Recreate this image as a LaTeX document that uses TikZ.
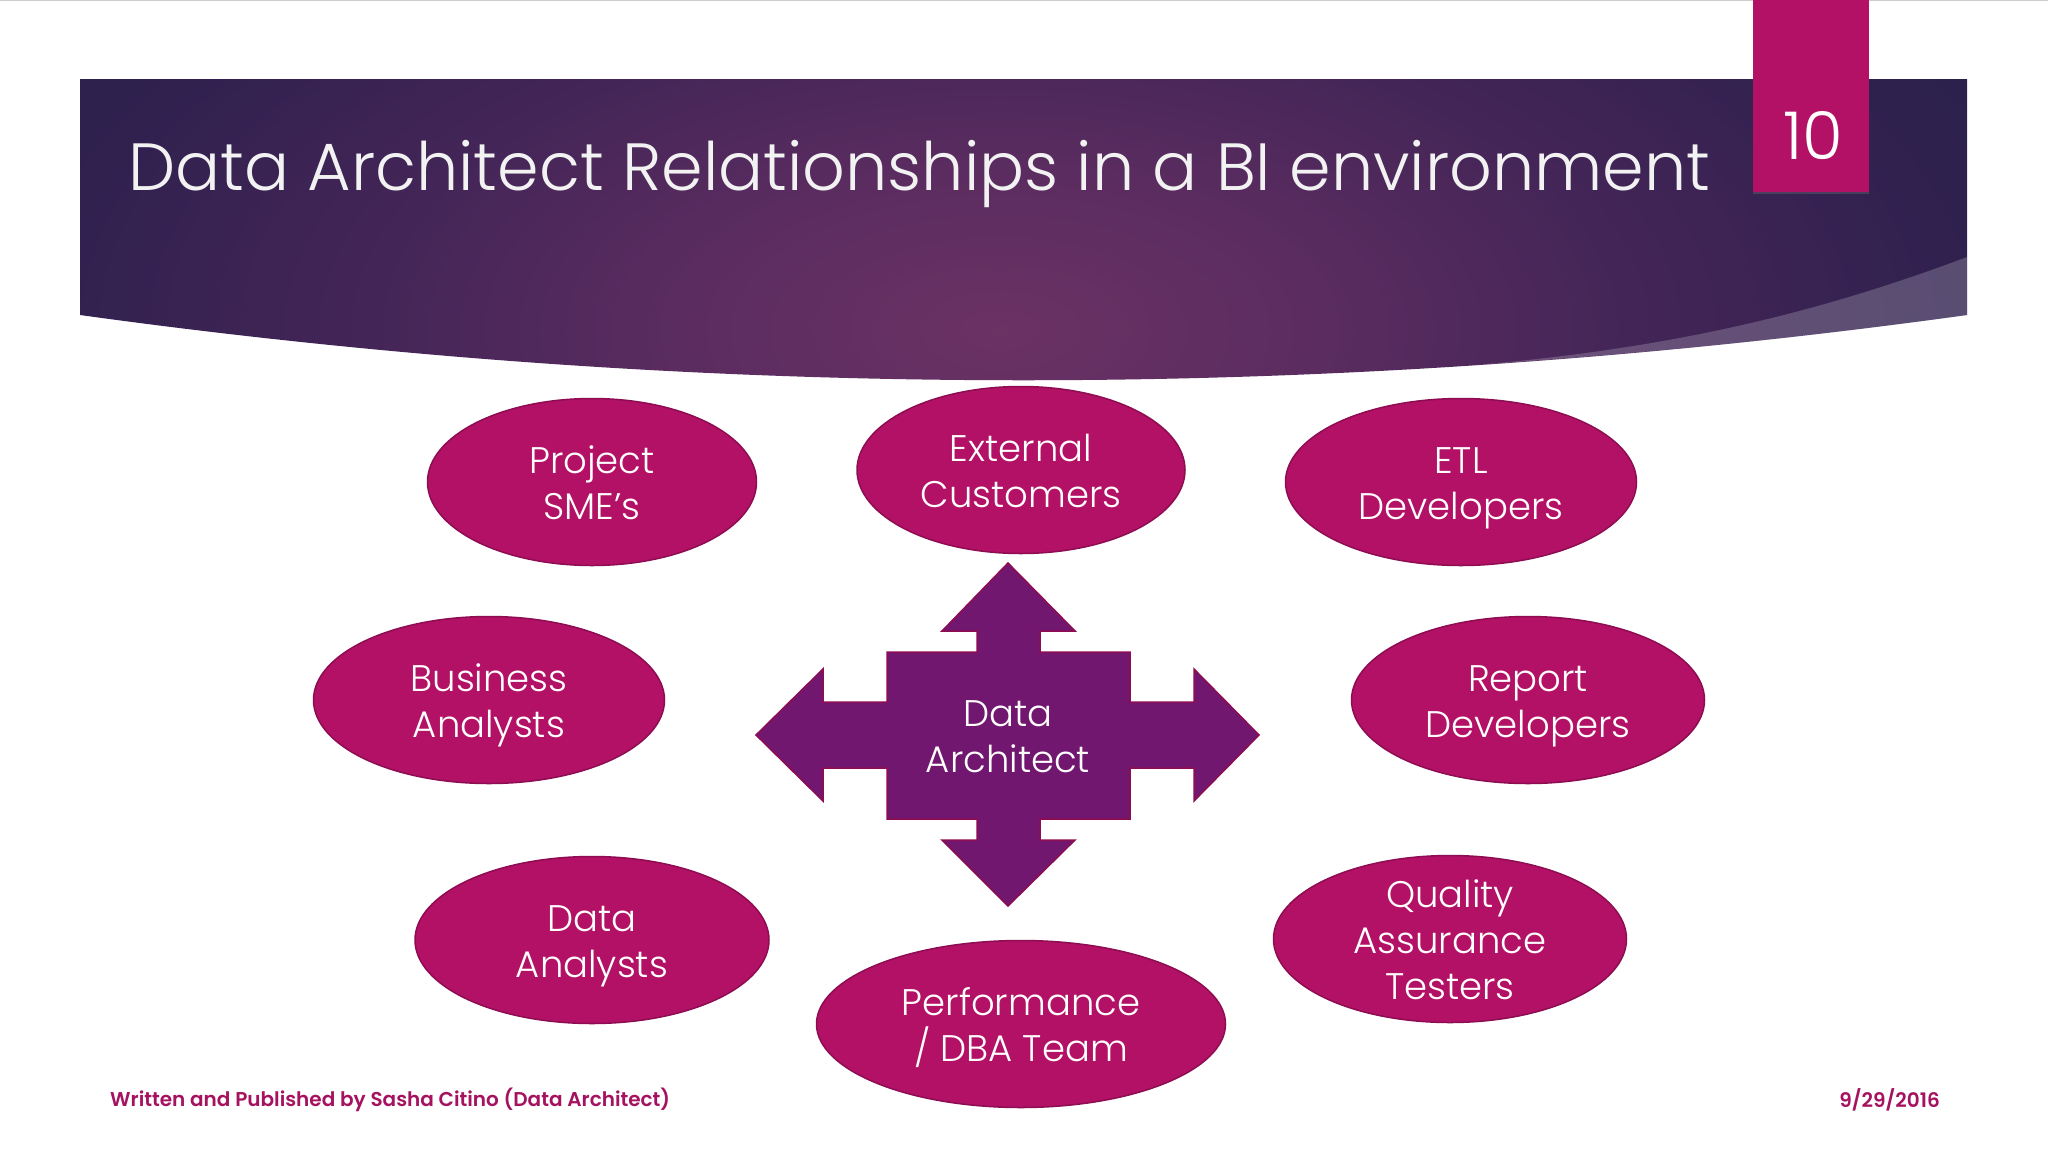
\documentclass[tikz,border=0pt]{standalone}
\usepackage{fontspec}
\setmainfont{Poppins}[UprightFont=* Light,BoldFont=* SemiBold]
\usetikzlibrary{shapes.geometric,shadows}
\definecolor{bubblefill}{HTML}{B31166}
\definecolor{bubbleline}{HTML}{8E0D52}
\definecolor{arrowfill}{HTML}{72176F}
\definecolor{footcolor}{HTML}{A5125F}
\definecolor{glowa}{HTML}{6B3264}
\definecolor{glowb}{HTML}{5B2C60}
\definecolor{glowc}{HTML}{432557}
\definecolor{glowd}{HTML}{30214F}
\definecolor{glowe}{HTML}{252048}
\pgfdeclareradialshading{bannerglow}{\pgfpoint{0bp}{0bp}}{
  color(0bp)=(glowa); color(8bp)=(glowb); color(16bp)=(glowc);
  color(24bp)=(glowd); color(32bp)=(glowe); color(50bp)=(glowe)}
\newcommand{\topstrut}{\vrule width 0pt height 39.4pt depth 0pt}
\newcommand{\botstrut}{\vrule width 0pt height 0pt depth 10pt}
\tikzset{
  labeltext/.style={text=white,align=center,font=\fontsize{37pt}{46pt}\selectfont,
    execute at end node=\botstrut},
  bubblenode/.style={ellipse,labeltext,draw=bubbleline,line width=1.5pt,fill=bubblefill,
    minimum width=#1,minimum height=167pt,inner xsep=0pt,inner ysep=-30pt},
  footnode/.style={text=footcolor,inner sep=0pt,font=\fontsize{20pt}{24pt}\selectfont\bfseries}
}
\begin{document}
\begin{tikzpicture}[x=1pt,y=-1pt]
\useasboundingbox (0,0) rectangle (2048,1152);
\fill[white] (0,0) rectangle (2048,1152);
\draw[gray!40] (0,0.5) -- (2048,0.5);
\begin{scope}
\clip (80,79) -- (1967,79) -- (1967,315) .. controls (1338,402) and (709,402) .. (80,315) -- cycle;
\shade[shading=bannerglow] (0,-170) rectangle (2000,830);
\end{scope}
\fill[white,opacity=.2] (1967,257) .. controls (1800,320) and (1650,350) .. (1476,365)
  .. controls (1640,354) and (1803,338) .. (1967,315) -- cycle;
\node[text=white!95!black,anchor=base west,inner sep=0pt,font=\fontsize{66.8pt}{80pt}\selectfont] (title)
  at (128,190) {Data Architect Relationships in a BI environment};
\fill[bubblefill,drop shadow={shadow xshift=0pt,shadow yshift=-2pt,opacity=.3}] (1753,0) rectangle (1869,192);
\node[text=white,inner sep=0pt,font=\fontsize{66pt}{70pt}\selectfont] (slidenum) at (1813,136) {10};
\draw[draw=bubbleline,line width=1.5pt,fill=arrowfill] (887,652) -- (977,652) -- (977,631) -- (942,631)
  -- (1008,563) -- (1075,631) -- (1040,631) -- (1040,652) -- (1130,652) -- (1130,702) -- (1194,702)
  -- (1194,669) -- (1259,735) -- (1194,801) -- (1194,768) -- (1130,768) -- (1130,819) -- (1040,819)
  -- (1040,840) -- (1075,840) -- (1008,906) -- (942,840) -- (977,840) -- (977,819) -- (887,819)
  -- (887,768) -- (823,768) -- (823,801) -- (756,735) -- (823,669) -- (823,702) -- (887,702) -- cycle;
\node[labeltext,inner sep=0pt] (architect) at (1008,735) {\topstrut Data\\Architect};
\foreach \n/\x/\y/\w/\t in {smes/592/482/329/{Project\\SME’s}, customers/1021/470/328/{External\\Customers},
    etl/1461/482/351/{ETL\\Developers}, business/489/700/351/{Business\\Analysts},
    report/1528/700/353/{Report\\Developers}, analysts/592/940/354/{Data\\Analysts},
    dba/1021/1024/409/{Performance\\/ DBA Team}, testers/1450/939/353/{Quality\\Assurance\\Testers}}
  \node[bubblenode=\w pt] (\n) at (\x,\y) {\topstrut\t};
\node[footnode,anchor=west] (credit) at (110,1100) {Written and Published by Sasha Citino (Data Architect)};
\node[footnode,anchor=east] (date) at (1940,1100) {9/29/2016};
\end{tikzpicture}
\end{document}
